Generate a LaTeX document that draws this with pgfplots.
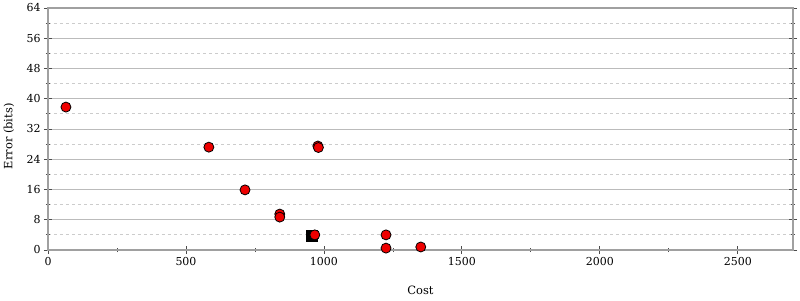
\documentclass[border=0pt]{standalone}
\usepackage{pgfplots}
\pgfplotsset{compat=1.18}
\usepackage{fontspec}
\setmainfont{DejaVu Serif}
\definecolor{axisgray}{HTML}{A0A0A0}
\definecolor{majgrid}{HTML}{BBBBBB}
\definecolor{mingrid}{HTML}{CCCCCC}
\definecolor{ptred}{HTML}{EE0000}
\begin{document}
\begin{tikzpicture}[x=1bp,y=1bp]
\begin{axis}[
  at={(0,0)}, anchor=south west,
  scale only axis,
  width=745bp, height=242bp,
  xmin=0, xmax=2700, ymin=0, ymax=64,
  xtick={0,500,1000,1500,2000,2500},
  minor xtick={250,750,1250,1750,2250},
  ytick={0,8,16,24,32,40,48,56,64},
  minor ytick={4,12,20,28,36,44,52,60},
  xtick pos=bottom, ytick pos=both,
  ymajorgrids, yminorgrids,
  major grid style={majgrid, line width=0.8pt},
  minor grid style={mingrid, dashed, line width=0.8pt},
  axis line style={axisgray, line width=1.2pt},
  tick align=center,
  major tick length=8bp, minor tick length=4bp,
  every tick/.style={black!70, line width=0.8pt},
  tick label style={font=\fontsize{11}{13}\selectfont},
  /pgf/number format/assume math mode=true,
  scaled ticks=false,
  xticklabel style={/pgf/number format/1000 sep={}},
  label style={font=\fontsize{11.5}{13}\selectfont},
  xlabel={Cost}, ylabel={Error (bits)},
  xlabel style={at={(axis description cs:0.5,0)}, anchor=center, yshift=-40bp},
  ylabel style={at={(axis description cs:0,0.47)}, anchor=center, rotate=0, yshift=39bp},
  clip=false,
]
\addplot[only marks, mark=square*, mark size=5.5bp, black] coordinates {(957,3.7)};
\addplot[only marks, mark=*, mark size=5bp, draw=black, fill=ptred, line width=0.8pt] coordinates {
(65,37.8) (583,27.2) (978,27.5) (980,27.1) (714,15.9) (840,9.5) (840,8.7)
(967,4.0) (1225,4.0) (1225,0.5) (1351,0.8)
};
\end{axis}
\useasboundingbox (-48,-50) rectangle (752,250);
\end{tikzpicture}
\end{document}
